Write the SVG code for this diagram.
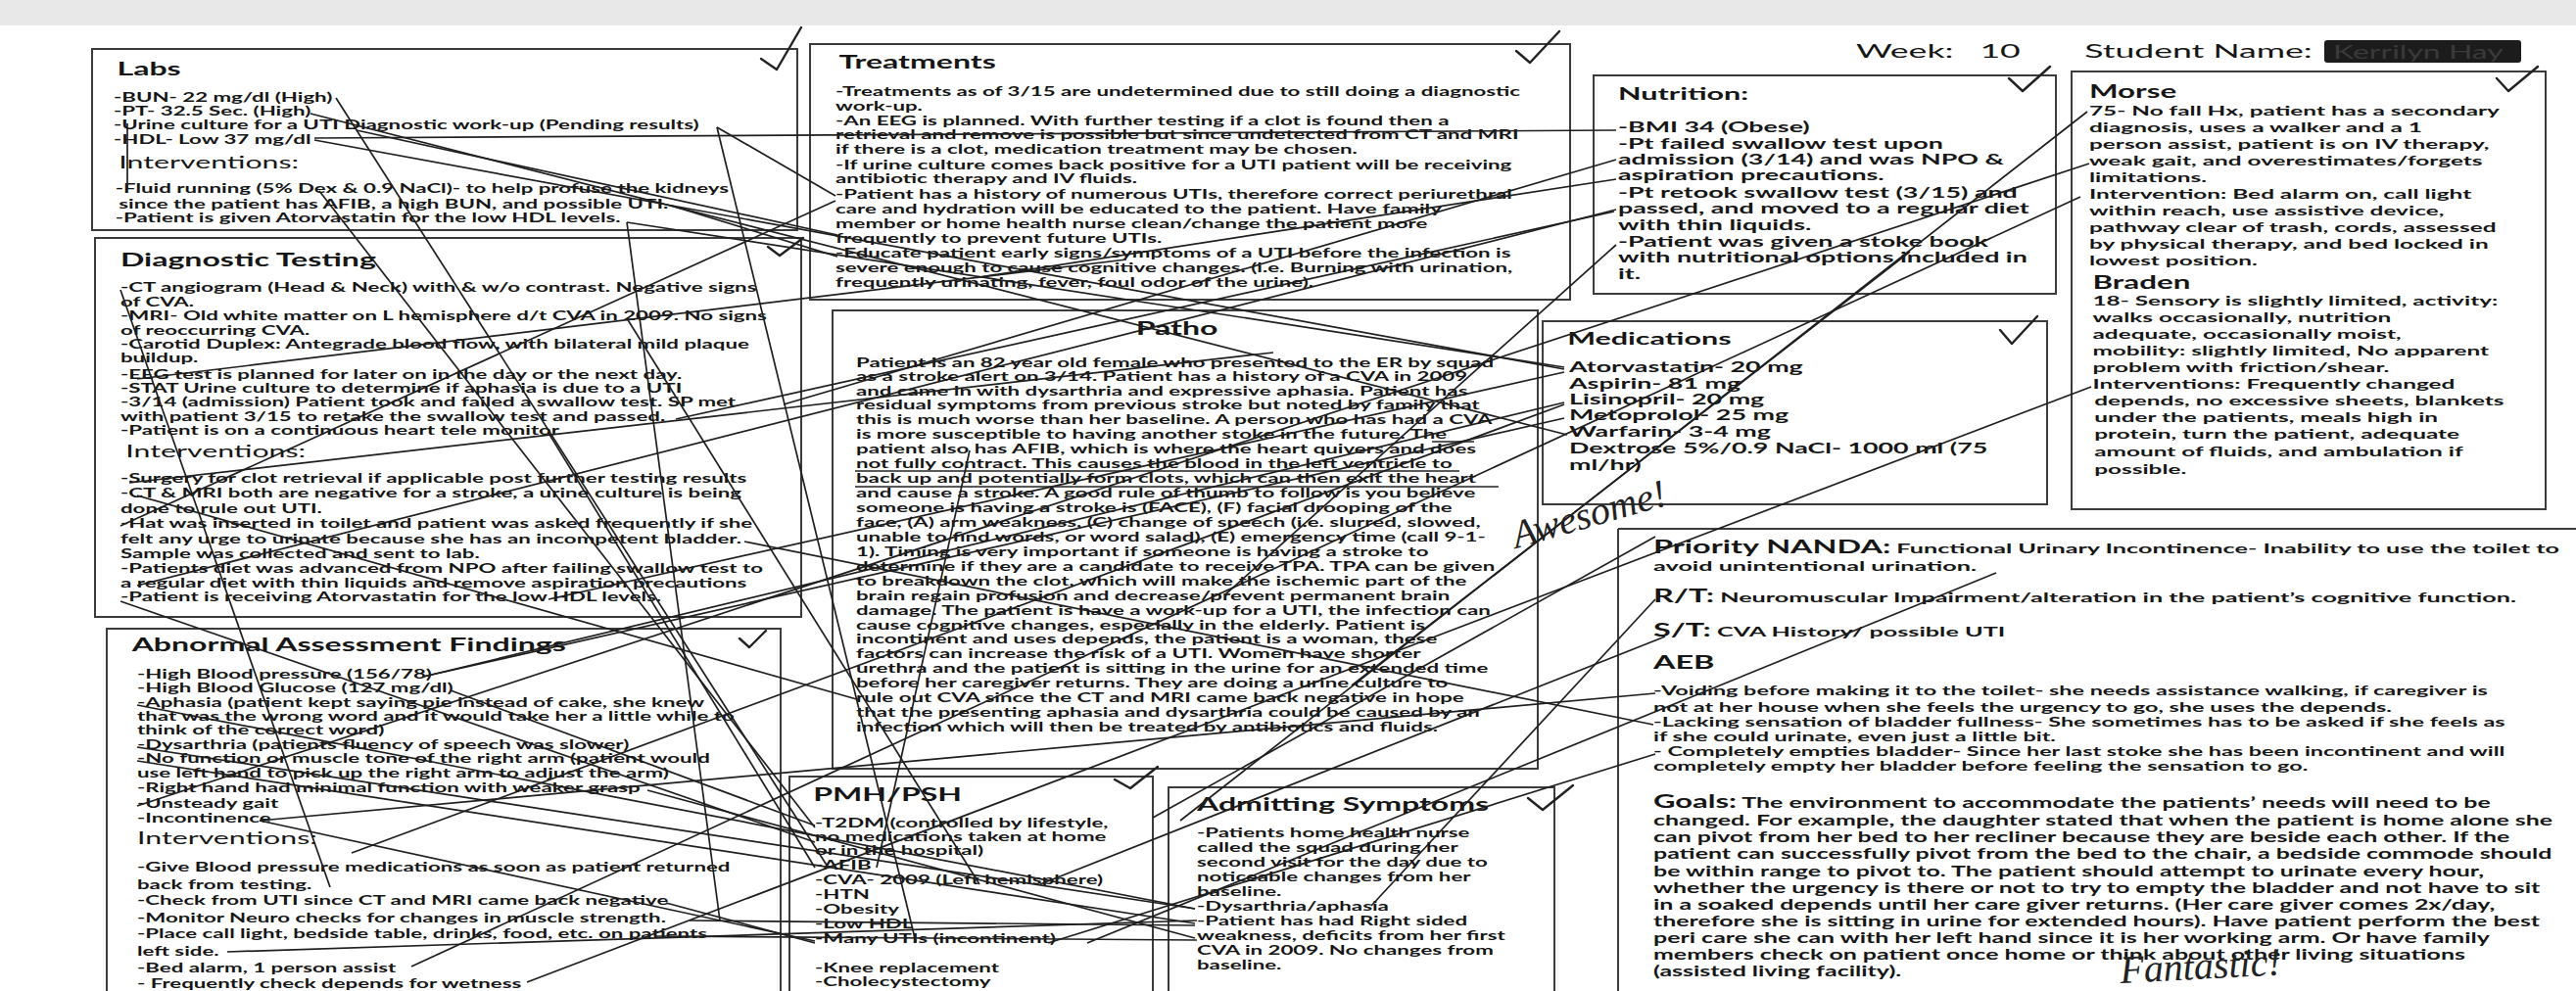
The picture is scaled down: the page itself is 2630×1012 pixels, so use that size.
<svg xmlns="http://www.w3.org/2000/svg" width="2630" height="1012" viewBox="0 0 2630 1012">
<style>
text{font-family:Lato,"Liberation Sans",sans-serif;fill:#161616}
.b{font-size:12.5px;font-weight:700}
.s13{font-size:13px;font-weight:700}
.s14{font-size:14px;font-weight:700}
.s145{font-size:14.5px;font-weight:700}
.h{font-size:18px;font-weight:700}
.h16{font-size:16.5px;font-weight:700}
.iv{font-size:17px;font-weight:400}
.hd{font-size:20px;font-weight:400}
.box{fill:none;stroke:#3c3c3c;stroke-width:2}
.cn line{stroke:#1f1f1f;stroke-width:1.7}
.mk line{stroke:#222;stroke-width:1.6}
.ck{fill:none;stroke:#222;stroke-width:2.4;stroke-linecap:round;stroke-linejoin:round}
.hw{font-family:"Liberation Serif",serif;font-style:italic;font-size:40px;fill:#222}
</style>
<rect x="0" y="0" width="2630" height="1012" fill="#ffffff"/>
<rect x="0" y="0" width="2630" height="26" fill="#e8e8e8"/>

<g id="header">
<g transform="matrix(1.78 0 0 1 1895 0)">
<text class="hd" y="59">Week:</text>
<text class="hd" x="71" y="59">10</text>
<text class="hd" x="131" y="59">Student Name:</text>
</g>
<rect x="2373" y="41" width="201" height="23" rx="3" fill="#1c1c1c"/>
<text class="hd" transform="matrix(1.6 0 0 1 2382 0)" y="60" style="fill:#3a3a3a">Kerrilyn Hay</text>
</g>

<g id="labs">
<rect class="box" x="94" y="50" width="720" height="185"/>
<g transform="matrix(1.78 0 0 1 116 0)">
<text class="h" x="2" y="77">Labs</text>
<text class="b" y="104">-BUN- 22 mg/dl (High)</text>
<text class="b" y="118">-PT- 32.5 Sec. (High)</text>
<text class="b" y="132">-Urine culture for a UTI Diagnostic work-up (Pending results)</text>
<text class="b" y="147">-HDL- Low 37 mg/dl</text>
<text class="iv" x="3" y="172">Interventions:</text>
<text class="b" x="1" y="197">-Fluid running (5% Dex &amp; 0.9 NaCl)- to help profuse the kidneys</text>
<text class="b" x="3" y="213">since the patient has AFIB, a high BUN, and possible UTI.</text>
<text class="b" x="1" y="227">-Patient is given Atorvastatin for the low HDL levels.</text>
</g>
</g>

<g id="diagnostic">
<rect class="box" x="97" y="243" width="721" height="387"/>
<g transform="matrix(1.78 0 0 1 123 0)">
<text class="h" y="272">Diagnostic Testing</text>
<text class="b" y="298">-CT angiogram (Head &amp; Neck) with &amp; w/o contrast. Negative signs</text>
<text class="b" y="313">of CVA.</text>
<text class="b" y="327">-MRI- Old white matter on L hemisphere d/t CVA in 2009. No signs</text>
<text class="b" y="342">of reoccurring CVA.</text>
<text class="b" y="356">-Carotid Duplex: Antegrade blood flow, with bilateral mild plaque</text>
<text class="b" y="370">buildup.</text>
<text class="b" y="387">-EEG test is planned for later on in the day or the next day.</text>
<text class="b" y="401">-STAT Urine culture to determine if aphasia is due to a UTI</text>
<text class="b" y="415">-3/14 (admission) Patient took and failed a swallow test. SP met</text>
<text class="b" y="430">with patient 3/15 to retake the swallow test and passed.</text>
<text class="b" y="444">-Patient is on a continuous heart tele monitor</text>
<text class="iv" x="3" y="467">Interventions:</text>
<text class="b" y="493">-Surgery for clot retrieval if applicable post further testing results</text>
<text class="b" y="508">-CT &amp; MRI both are negative for a stroke, a urine culture is being</text>
<text class="b" y="524">done to rule out UTI.</text>
<text class="b" y="539">-Hat was inserted in toilet and patient was asked frequently if she</text>
<text class="b" y="555">felt any urge to urinate because she has an incompetent bladder.</text>
<text class="b" y="570">Sample was collected and sent to lab.</text>
<text class="b" y="585">-Patients diet was advanced from NPO after failing swallow test to</text>
<text class="b" y="600">a regular diet with thin liquids and remove aspiration precautions</text>
<text class="b" y="614">-Patient is receiving Atorvastatin for the low HDL levels.</text>
</g>
</g>

<g id="abnormal">
<rect class="box" x="109" y="642" width="688" height="385"/>
<g transform="matrix(1.78 0 0 1 140 0)">
<text class="h" x="-3" y="665">Abnormal Assessment Findings</text>
<text class="b" y="693">-High Blood pressure (156/78)</text>
<text class="b" y="707">-High Blood Glucose (127 mg/dl)</text>
<text class="b" y="722">-Aphasia (patient kept saying pie instead of cake, she knew</text>
<text class="b" y="736">that was the wrong word and it would take her a little while to</text>
<text class="b" y="750">think of the correct word)</text>
<text class="b" y="765">-Dysarthria (patients fluency of speech was slower)</text>
<text class="b" y="779">-No function or muscle tone of the right arm (patient would</text>
<text class="b" y="794">use left hand to pick up the right arm to adjust the arm)</text>
<text class="b" y="809">-Right hand had minimal function with weaker grasp</text>
<text class="b" y="825">-Unsteady gait</text>
<text class="b" y="840">-Incontinence</text>
<text class="iv" y="862">Interventions:</text>
<text class="b" y="890">-Give Blood pressure medications as soon as patient returned</text>
<text class="b" y="908">back from testing.</text>
<text class="b" y="924">-Check from UTI since CT and MRI came back negative</text>
<text class="b" y="942">-Monitor Neuro checks for changes in muscle strength.</text>
<text class="b" y="958">-Place call light, bedside table, drinks, food, etc. on patients</text>
<text class="b" y="976">left side.</text>
<text class="b" y="993">-Bed alarm, 1 person assist</text>
<text class="b" y="1009">- Frequently check depends for wetness</text>
</g>
</g>

<g id="treatments">
<rect class="box" x="827" y="45" width="776" height="261"/>
<g transform="matrix(1.78 0 0 1 853 0)">
<text class="h" x="2" y="70">Treatments</text>
<text class="b" y="98">-Treatments as of 3/15 are undetermined due to still doing a diagnostic</text>
<text class="b" y="113">work-up.</text>
<text class="b" y="128">-An EEG is planned. With further testing if a clot is found then a</text>
<text class="b" y="142">retrieval and remove is possible but since undetected from CT and MRI</text>
<text class="b" y="157">if there is a clot, medication treatment may be chosen.</text>
<text class="b" y="173">-If urine culture comes back positive for a UTI patient will be receiving</text>
<text class="b" y="187">antibiotic therapy and IV fluids.</text>
<text class="b" y="203">-Patient has a history of numerous UTIs, therefore correct periurethral</text>
<text class="b" y="218">care and hydration will be educated to the patient. Have family</text>
<text class="b" y="233">member or home health nurse clean/change the patient more</text>
<text class="b" y="248">frequently to prevent future UTIs.</text>
<text class="b" y="263">-Educate patient early signs/symptoms of a UTI before the infection is</text>
<text class="b" y="278">severe enough to cause cognitive changes. (i.e. Burning with urination,</text>
<text class="b" y="293">frequently urinating, fever, foul odor of the urine).</text>
</g>
</g>

<g id="patho">
<rect class="box" x="850" y="317" width="720" height="468"/>
<g transform="matrix(1.78 0 0 1 874 0)">
<text class="h" x="184" y="342" text-anchor="middle">Patho</text>
<text class="b" y="375">Patient is an 82 year old female who presented to the ER by squad</text>
<text class="b" y="389">as a stroke alert on 3/14. Patient has a history of a CVA in 2009</text>
<text class="b" y="404">and came in with dysarthria and expressive aphasia. Patient has</text>
<text class="b" y="418">residual symptoms from previous stroke but noted by family that</text>
<text class="b" y="433">this is much worse than her baseline. A person who has had a CVA</text>
<text class="b" y="448">is more susceptible to having another stoke in the future. The</text>
<text class="b" y="463">patient also has AFIB, which is where the heart quivers and does</text>
<text class="b" y="478">not fully contract. This causes the blood in the left ventricle to</text>
<text class="b" y="493">back up and potentially form clots, which can then exit the heart</text>
<text class="b" y="508">and cause a stroke. A good rule of thumb to follow is you believe</text>
<text class="b" y="523">someone is having a stroke is (FACE), (F) facial drooping of the</text>
<text class="b" y="538">face, (A) arm weakness, (C) change of speech (i.e. slurred, slowed,</text>
<text class="b" y="553">unable to find words, or word salad), (E) emergency time (call 9-1-</text>
<text class="b" y="568">1).  Timing is very important if someone is having a stroke to</text>
<text class="b" y="583">determine if they are a candidate to receive TPA. TPA can be given</text>
<text class="b" y="598">to breakdown the clot, which will make the ischemic part of the</text>
<text class="b" y="613">brain regain profusion and decrease/prevent permanent brain</text>
<text class="b" y="628">damage. The patient is have a work-up for a UTI, the infection can</text>
<text class="b" y="643">cause cognitive changes, especially in the elderly. Patient is</text>
<text class="b" y="657">incontinent and uses depends, the patient is a woman, these</text>
<text class="b" y="672">factors can increase the risk of a UTI. Women have shorter</text>
<text class="b" y="687">urethra and the patient is sitting in the urine for an extended time</text>
<text class="b" y="702">before her caregiver returns. They are doing a urine culture to</text>
<text class="b" y="717">rule out CVA since the CT and MRI came back negative in hope</text>
<text class="b" y="732">that the presenting aphasia and dysarthria could be caused by an</text>
<text class="b" y="747">infection which will then be treated by antibiotics and fluids.</text>
</g>
</g>

<g id="pmh">
<rect class="box" x="806" y="793" width="371" height="235"/>
<g transform="matrix(1.78 0 0 1 832 0)">
<text class="h" x="-1" y="818">PMH/PSH</text>
<text class="b" y="845">-T2DM (controlled by lifestyle,</text>
<text class="b" y="859">no medications taken at home</text>
<text class="b" y="873">or in the hospital)</text>
<text class="b" y="888">-AFIB</text>
<text class="b" y="903">-CVA- 2009 (Left hemisphere)</text>
<text class="b" y="918">-HTN</text>
<text class="b" y="933">-Obesity</text>
<text class="b" y="948">-Low HDL</text>
<text class="b" y="963">-Many UTIs (incontinent)</text>
<text class="b" y="993">-Knee replacement</text>
<text class="b" y="1007">-Cholecystectomy</text>
</g>
</g>

<g id="admitting">
<rect class="box" x="1193" y="804" width="394" height="225"/>
<g transform="matrix(1.78 0 0 1 1222 0)">
<text class="h" y="828">Admitting Symptoms</text>
<text class="b" y="855">-Patients home health nurse</text>
<text class="b" y="870">called the squad during her</text>
<text class="b" y="885">second visit for the day due to</text>
<text class="b" y="900">noticeable changes from her</text>
<text class="b" y="915">baseline.</text>
<text class="b" y="930">-Dysarthria/aphasia</text>
<text class="b" y="945">-Patient has had Right sided</text>
<text class="b" y="960">weakness, deficits from her first</text>
<text class="b" y="975">CVA in 2009. No changes from</text>
<text class="b" y="990">baseline.</text>
</g>
</g>

<g id="nutrition">
<rect class="box" x="1627" y="77" width="472" height="223"/>
<g transform="matrix(1.85 0 0 1 1652 0)">
<text class="h16" y="102">Nutrition:</text>
<text class="s145" y="135">-BMI 34 (Obese)</text>
<text class="s145" y="152">-Pt failed swallow test upon</text>
<text class="s145" y="168">admission (3/14) and was NPO &amp;</text>
<text class="s145" y="184">aspiration precautions.</text>
<text class="s145" y="202">-Pt retook swallow test (3/15) and</text>
<text class="s145" y="218">passed, and moved to a regular diet</text>
<text class="s145" y="235">with thin liquids.</text>
<text class="s145" y="252">-Patient was given a stoke book</text>
<text class="s145" y="268">with nutritional options included in</text>
<text class="s145" y="285">it.</text>
</g>
</g>

<g id="medications">
<rect class="box" x="1575" y="328" width="515" height="187"/>
<g transform="matrix(1.85 0 0 1 1602 0)">
<text class="h16" x="-1" y="352">Medications</text>
<text class="s145" y="380">Atorvastatin- 20 mg</text>
<text class="s145" y="397">Aspirin- 81 mg</text>
<text class="s145" y="413">Lisinopril- 20 mg</text>
<text class="s145" y="429">Metoprolol- 25 mg</text>
<text class="s145" y="446">Warfarin- 3-4 mg</text>
<text class="s145" y="463">Dextrose 5%/0.9 NaCl- 1000 ml (75</text>
<text class="s145" y="480">ml/hr)</text>
</g>
</g>

<g id="morse">
<rect class="box" x="2115" y="73" width="484" height="447"/>
<g transform="matrix(1.74 0 0 1 2133 0)">
<text class="h" y="100">Morse</text>
<text class="s14" y="118">75- No fall Hx, patient has a secondary</text>
<text class="s14" y="135">diagnosis, uses a walker and a 1</text>
<text class="s14" y="152">person assist, patient is on IV therapy,</text>
<text class="s14" y="169">weak gait, and overestimates/forgets</text>
<text class="s14" y="186">limitations.</text>
<text class="s14" y="203">Intervention: Bed alarm on, call light</text>
<text class="s14" y="220">within reach, use assistive device,</text>
<text class="s14" y="237">pathway clear of trash, cords, assessed</text>
<text class="s14" y="254">by physical therapy, and bed locked in</text>
<text class="s14" y="271">lowest position.</text>
<text class="h" x="2" y="295">Braden</text>
<text class="s14" x="2" y="312">18- Sensory is slightly limited, activity:</text>
<text class="s14" x="2" y="329">walks occasionally, nutrition</text>
<text class="s14" x="2" y="346">adequate, occasionally moist,</text>
<text class="s14" x="2" y="363">mobility: slightly limited, No apparent</text>
<text class="s14" x="2" y="380">problem with friction/shear.</text>
<text class="s14" x="2" y="397">Interventions: Frequently changed</text>
<text class="s14" x="3" y="414">depends, no excessive sheets, blankets</text>
<text class="s14" x="3" y="431">under the patients, meals high in</text>
<text class="s14" x="3" y="448">protein, turn the patient, adequate</text>
<text class="s14" x="3" y="466">amount of fluids, and ambulation if</text>
<text class="s14" x="3" y="484">possible.</text>
</g>
</g>

<g id="nanda">
<line x1="1652" y1="540" x2="2630" y2="540" stroke="#3c3c3c" stroke-width="2"/>
<line x1="1652" y1="540" x2="1652" y2="1012" stroke="#3c3c3c" stroke-width="2"/>
<g transform="matrix(1.8 0 0 1 1688 0)">
<text y="565"><tspan class="h">Priority NANDA:</tspan><tspan class="s14"> Functional Urinary Incontinence- Inability to use the toilet to</tspan></text>
<text class="s14" y="583">avoid unintentional urination.</text>
<text y="615"><tspan class="h">R/T:</tspan><tspan class="s14"> Neuromuscular Impairment/alteration in the patient’s cognitive function.</tspan></text>
<text y="650"><tspan class="h">S/T:</tspan><tspan class="s14"> CVA History/ possible UTI</tspan></text>
<text class="h" y="683">AEB</text>
<text class="s13" y="710">-Voiding before making it to the toilet- she needs assistance walking, if caregiver is</text>
<text class="s13" y="727">not at her house when she feels the urgency to go, she uses the depends.</text>
<text class="s13" y="742">-Lacking sensation of bladder fullness- She sometimes has to be asked if she feels as</text>
<text class="s13" y="757">if she could urinate, even just a little bit.</text>
<text class="s13" y="772">- Completely empties bladder- Since her last stoke she has been incontinent and will</text>
<text class="s13" y="787">completely empty her bladder before feeling the sensation to go.</text>
</g>
<g transform="matrix(1.72 0 0 1 1688 0)">
<text y="825"><tspan class="h">Goals:</tspan><tspan class="s145"> The environment to accommodate the patients’ needs will need to be</tspan></text>
<text class="s145" y="843">changed. For example, the daughter stated that when the patient is home alone she</text>
<text class="s145" y="860">can pivot from her bed to her recliner because they are beside each other. If the</text>
<text class="s145" y="877">patient can successfully pivot from the bed to the chair, a bedside commode should</text>
<text class="s145" y="895">be within range to pivot to. The patient should attempt to urinate every hour,</text>
<text class="s145" y="912">whether the urgency is there or not to try to empty the bladder and not have to sit</text>
<text class="s145" y="929">in a soaked depends until her care giver returns. (Her care giver comes 2x/day,</text>
<text class="s145" y="946">therefore she is sitting in urine for extended hours). Have patient perform the best</text>
<text class="s145" y="963">peri care she can with her left hand since it is her working arm. Or have family</text>
<text class="s145" y="980">members check on patient once home or think about other living situations</text>
<text class="s145" y="997">(assisted living facility).</text>
</g>
</g>

<g id="marks" class="mk">
<line x1="873" y1="481" x2="1490" y2="481"/>
<line x1="873" y1="497" x2="1530" y2="497"/>
<line x1="1462" y1="451" x2="1505" y2="451"/>
<path class="ck" d="M777 60 L793 71 L818 28"/>
<path class="ck" d="M784 252 L796 261 L820 243"/>
<path class="ck" d="M755 652 L765 661 L782 644"/>
<path class="ck" d="M1548 52 L1562 64 L1592 32"/>
<path class="ck" d="M2051 80 L2065 93 L2093 68"/>
<path class="ck" d="M2549 80 L2561 93 L2591 68"/>
<path class="ck" d="M2042 337 L2054 351 L2080 323"/>
<path class="ck" d="M1138 796 L1154 805 L1182 783"/>
<path class="ck" d="M1560 815 L1575 827 L1606 802"/>
<text class="hw" transform="translate(1548 560) rotate(-16)">Awesome!</text>
<text class="hw" transform="translate(2165 1004) rotate(-3)">Fantastic!</text>
</g>

<g id="connectors" class="cn">
<line x1="343" y1="100" x2="845" y2="885"/>
<line x1="317" y1="116" x2="1600" y2="444"/>
<line x1="364" y1="133" x2="855" y2="240"/>
<line x1="321" y1="143" x2="1597" y2="377"/>
<line x1="732" y1="130" x2="853" y2="200"/>
<line x1="732" y1="130" x2="935" y2="962"/>
<line x1="326" y1="195" x2="832" y2="845"/>
<line x1="640" y1="227" x2="1597" y2="375"/>
<line x1="640" y1="227" x2="735" y2="940"/>
<line x1="685" y1="210" x2="855" y2="262"/>
<line x1="321" y1="141" x2="1650" y2="133"/>
<line x1="130" y1="126" x2="130" y2="193"/>
<line x1="640" y1="325" x2="1000" y2="903"/>
<line x1="140" y1="387" x2="1150" y2="265"/>
<line x1="800" y1="413" x2="1650" y2="163"/>
<line x1="690" y1="428" x2="1648" y2="216"/>
<line x1="560" y1="442" x2="832" y2="886"/>
<line x1="132" y1="493" x2="1300" y2="360"/>
<line x1="123" y1="537" x2="853" y2="205"/>
<line x1="123" y1="614" x2="832" y2="860"/>
<line x1="123" y1="296" x2="337" y2="906"/>
<line x1="140" y1="506" x2="878" y2="715"/>
<line x1="140" y1="598" x2="1650" y2="214"/>
<line x1="560" y1="612" x2="1597" y2="380"/>
<line x1="760" y1="553" x2="1688" y2="740"/>
<line x1="432" y1="691" x2="1597" y2="411"/>
<line x1="432" y1="691" x2="1597" y2="427"/>
<line x1="460" y1="705" x2="832" y2="843"/>
<line x1="140" y1="720" x2="1220" y2="928"/>
<line x1="140" y1="763" x2="1220" y2="928"/>
<line x1="140" y1="777" x2="1220" y2="943"/>
<line x1="661" y1="807" x2="1220" y2="958"/>
<line x1="140" y1="823" x2="2133" y2="167"/>
<line x1="265" y1="838" x2="832" y2="961"/>
<line x1="359" y1="871" x2="1597" y2="413"/>
<line x1="680" y1="922" x2="832" y2="963"/>
<line x1="704" y1="940" x2="1220" y2="945"/>
<line x1="670" y1="956" x2="1222" y2="960"/>
<line x1="232" y1="972" x2="1222" y2="940"/>
<line x1="420" y1="987" x2="2124" y2="201"/>
<line x1="538" y1="1003" x2="2135" y2="395"/>
<line x1="2131" y1="114" x2="1205" y2="838"/>
<line x1="1650" y1="250" x2="1250" y2="608"/>
<line x1="1950" y1="257" x2="1380" y2="700"/>
<line x1="2038" y1="585" x2="1110" y2="963"/>
<line x1="1700" y1="650" x2="1062" y2="903"/>
<line x1="1690" y1="708" x2="265" y2="838"/>
<line x1="1690" y1="770" x2="1070" y2="963"/>
<line x1="1690" y1="548" x2="1177" y2="835"/>
<line x1="1690" y1="612" x2="1400" y2="925"/>
<line x1="990" y1="460" x2="895" y2="886"/>
<line x1="1000" y1="283" x2="1650" y2="183"/>
</g>
</svg>
